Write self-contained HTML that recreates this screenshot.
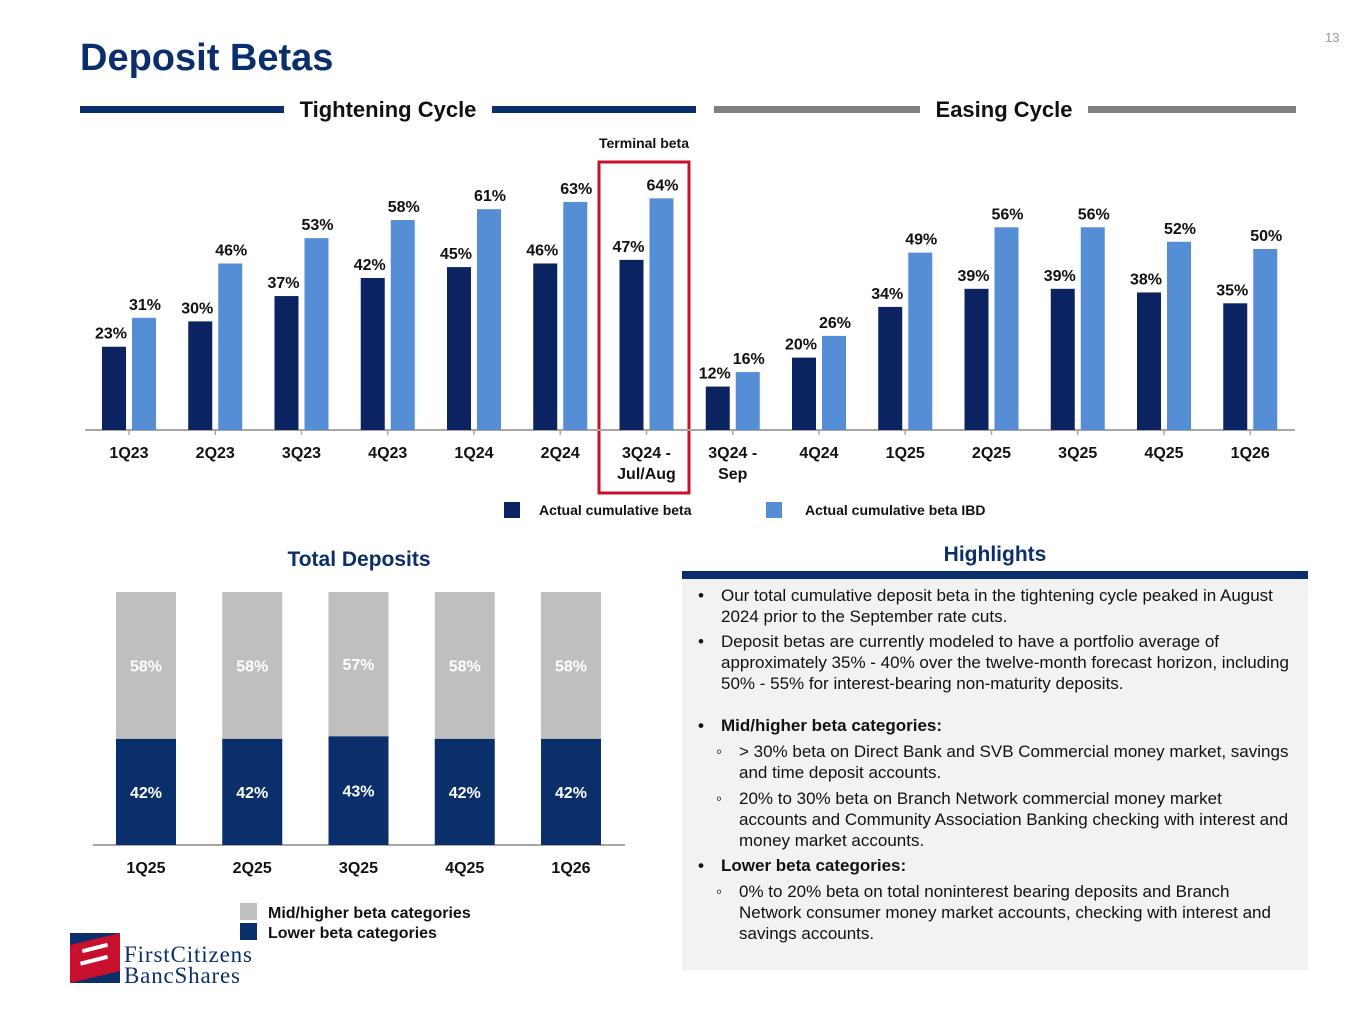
<!DOCTYPE html>
<html><head><meta charset="utf-8"><style>
body{margin:0;width:1365px;height:1024px;background:#fff;position:relative;overflow:hidden;font-family:"Liberation Sans",Arial,sans-serif;}
.abs{position:absolute}
.hl{position:absolute;left:682px;top:571px;width:626px;height:399px;background:#f2f2f2}
.hl .bar{position:absolute;left:0;top:0;width:626px;height:8px;background:#0b2f6b}
.txt{position:absolute;font-size:17px;line-height:21px;color:#111}
</style></head><body>
<div class="abs" style="left:80px;top:37px;font-size:38px;font-weight:bold;color:#0b2f6b">Deposit Betas</div>
<div class="abs" style="left:1325px;top:30px;font-size:13px;color:#999">13</div>
<svg class="abs" style="left:0;top:0" width="1365" height="1024">
<g>
<rect x="80" y="106" width="204" height="7" fill="#0b2f6b"/>
<rect x="492" y="106" width="204" height="7" fill="#0b2f6b"/>
<rect x="714" y="106" width="206" height="7" fill="#808080"/>
<rect x="1088" y="106" width="208" height="7" fill="#808080"/>
<text x="388" y="117" text-anchor="middle" font-size="22" font-weight="bold" fill="#111">Tightening Cycle</text>
<text x="1004" y="117" text-anchor="middle" font-size="22" font-weight="bold" fill="#111">Easing Cycle</text>
</g>
<text x="644" y="148" text-anchor="middle" font-size="14" font-weight="bold" fill="#111">Terminal beta</text>
<rect x="599" y="162" width="90" height="331" fill="none" stroke="#c8102e" stroke-width="3"/>
<g id="topchart"></g>
<g id="botchart"></g>
<g>
<rect x="504" y="502" width="16" height="16" fill="#0b2360"/><text x="539" y="515" font-size="14" font-weight="bold" fill="#111">Actual cumulative beta</text>
<rect x="766" y="502" width="16" height="16" fill="#558ed5"/><text x="805" y="515" font-size="14" font-weight="bold" fill="#111">Actual cumulative beta IBD</text>
</g>
<text x="359" y="566" text-anchor="middle" font-size="21" font-weight="bold" fill="#0b2f6b">Total Deposits</text>
<g>
<rect x="240" y="903" width="17" height="17" fill="#bfbfbf"/><text x="268" y="918" font-size="16" font-weight="bold" fill="#111">Mid/higher beta categories</text>
<rect x="240" y="923" width="17" height="17" fill="#0b2f6b"/><text x="268" y="938" font-size="16" font-weight="bold" fill="#111">Lower beta categories</text>
</g>
<g>
<rect x="70" y="933" width="50" height="50" fill="#0b2f6b"/>
<polygon points="70,983 70,945 120,933 120,971" fill="#c8102e"/>
<rect x="82" y="946" width="26" height="4" fill="#fff" transform="rotate(-14 95 948)"/>
<rect x="80" y="958" width="28" height="4" fill="#fff" transform="rotate(-14 95 960)"/>
<text x="124" y="962" font-family="Liberation Serif,serif" font-size="23" fill="#0b2f6b" textLength="128">FirstCitizens</text>
<text x="124" y="983" font-family="Liberation Serif,serif" font-size="23" fill="#0b2f6b" textLength="116">BancShares</text>
</g>
</svg>
<div class="hl"><div class="bar"></div></div>
<div class="abs" style="left:682px;top:543px;width:626px;text-align:center;font-size:21px;font-weight:bold;color:#0b2f6b">Highlights</div>
<div class="txt" style="left:698px;top:585px">•</div><div class="txt" style="left:721px;top:585px;width:575px">Our total cumulative deposit beta in the tightening cycle peaked in August 2024 prior to the September rate cuts.</div>
<div class="txt" style="left:698px;top:631px">•</div><div class="txt" style="left:721px;top:631px;width:575px">Deposit betas are currently modeled to have a portfolio average of approximately 35% - 40% over the twelve-month forecast horizon, including 50% - 55% for interest-bearing non-maturity deposits.</div>
<div class="txt" style="left:698px;top:715px;font-weight:bold">•</div><div class="txt" style="left:721px;top:715px;font-weight:bold">Mid/higher beta categories:</div>
<div class="txt" style="left:716px;top:741px">◦</div><div class="txt" style="left:739px;top:741px;width:555px">&gt; 30% beta on Direct Bank and SVB Commercial money market, savings and time deposit accounts.</div>
<div class="txt" style="left:716px;top:788px">◦</div><div class="txt" style="left:739px;top:788px;width:550px">20% to 30% beta on Branch Network commercial money market accounts and Community Association Banking checking with interest and money market accounts.</div>
<div class="txt" style="left:698px;top:855px;font-weight:bold">•</div><div class="txt" style="left:721px;top:855px;font-weight:bold">Lower beta categories:</div>
<div class="txt" style="left:716px;top:881px">◦</div><div class="txt" style="left:739px;top:881px;width:550px">0% to 20% beta on total noninterest bearing deposits and Branch Network consumer money market accounts, checking with interest and savings accounts.</div>
<script>
const topCats=["1Q23","2Q23","3Q23","4Q23","1Q24","2Q24","3Q24 -|Jul/Aug","3Q24 -|Sep","4Q24","1Q25","2Q25","3Q25","4Q25","1Q26"];
const betaActual=[23,30,37,42,45,46,47,12,20,34,39,39,38,35];
const betaIBD=[31,46,53,58,61,63,64,16,26,49,56,56,52,50];
const botCats=["1Q25","2Q25","3Q25","4Q25","1Q26"];
const lowerBeta=[42,42,43,42,42];
const higherBeta=[58,58,57,58,58];
const NS="http://www.w3.org/2000/svg";
function mk(p,t,a,txt){const e=document.createElementNS(NS,t);for(const k in a)e.setAttribute(k,a[k]);if(txt!=null)e.textContent=txt;p.appendChild(e);return e;}
const topG=document.getElementById('topchart');
const x0=129,pitch=86.25,base=430,sc=3.62;
const tx=i=>x0+i*pitch, ty=v=>base-v*sc;
mk(topG,'line',{x1:85,x2:1295,y1:base,y2:base,stroke:'#a6a6a6','stroke-width':2});
topCats.forEach((c,i)=>{
 const cx=tx(i);
 mk(topG,'line',{x1:cx,x2:cx,y1:base,y2:base+5,stroke:'#a6a6a6','stroke-width':1.5});
 let r=mk(topG,'rect',{x:cx-27,y:ty(betaActual[i]),width:24,height:base-ty(betaActual[i]),fill:'#0b2360'});
 
 
 r=mk(topG,'rect',{x:cx+3,y:ty(betaIBD[i]),width:24,height:base-ty(betaIBD[i]),fill:'#558ed5'});
 
 
 mk(topG,'text',{x:cx-18,y:ty(betaActual[i])-8,'text-anchor':'middle','font-size':16,'font-weight':'bold',fill:'#111'},betaActual[i]+'%');
 mk(topG,'text',{x:cx+16,y:ty(betaIBD[i])-8,'text-anchor':'middle','font-size':16,'font-weight':'bold',fill:'#111'},betaIBD[i]+'%');
 c.split('|').forEach((l,j)=>mk(topG,'text',{x:cx,y:458+j*21,'text-anchor':'middle','font-size':16,'font-weight':'bold',fill:'#111'},l));
});
const botG=document.getElementById('botchart');
const bx0=146,bp=106.25,bb=845,bs=2.53;
mk(botG,'line',{x1:93,x2:625,y1:bb,y2:bb,stroke:'#a6a6a6','stroke-width':2});
botCats.forEach((c,i)=>{
 const cx=bx0+i*bp, lh=lowerBeta[i]*bs, hh=higherBeta[i]*bs;
 let r=mk(botG,'rect',{x:cx-30,y:bb-lh,width:60,height:lh,fill:'#0b2f6b'});
 
 
 r=mk(botG,'rect',{x:cx-30,y:bb-lh-hh,width:60,height:hh,fill:'#bfbfbf'});
 
 
 mk(botG,'text',{x:cx,y:bb-lh/2+6,'text-anchor':'middle','font-size':16,'font-weight':'bold',fill:'#fff'},lowerBeta[i]+'%');
 mk(botG,'text',{x:cx,y:bb-lh-hh/2+6,'text-anchor':'middle','font-size':16,'font-weight':'bold',fill:'#fff'},higherBeta[i]+'%');
 mk(botG,'text',{x:cx,y:873,'text-anchor':'middle','font-size':16,'font-weight':'bold',fill:'#111'},c);
});
</script>
</body></html>
